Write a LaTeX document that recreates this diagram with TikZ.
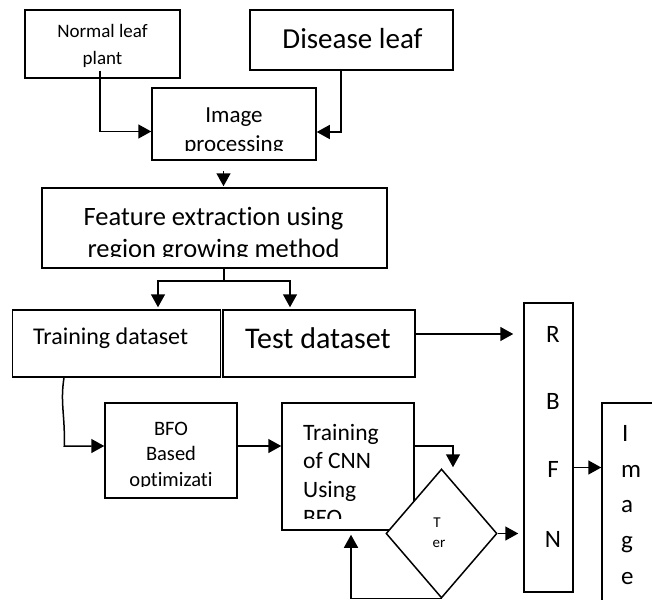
\documentclass[tikz,border=0pt]{standalone}
\usepackage{fontspec}
\setmainfont{Carlito}[Ligatures=NoCommon]
\usetikzlibrary{arrows.meta,calc,shapes.geometric}

\begin{document}
\begin{tikzpicture}[x=1pt,y=-1pt,
  box/.style={draw,line width=1.5pt,rectangle,inner sep=0pt,fill=white},
  arr/.style={line width=1.5pt,-{Triangle[length=13pt,width=14pt]}},
  ln/.style={line width=1.5pt},
  txt/.style={inner sep=0pt,anchor=base},
  lt/.style={inner sep=0pt,anchor=base west},
  fs/.style={font=\fontsize{#1}{#1}\selectfont}]
\useasboundingbox (0,0) rectangle (652,599);
\clip (0,0) rectangle (652,599);

% boxes
\node[box,minimum width=155pt,minimum height=68pt] (normal) at (102.5,44) {};
\node[box,minimum width=203pt,minimum height=60pt] (disease) at (351.5,40) {};
\node[box,minimum width=164pt,minimum height=72pt] (imgproc) at (234,124) {};
\node[box,minimum width=345pt,minimum height=80pt] (feature) at (214.5,228) {};
\node[box,minimum width=208pt,minimum height=67pt] (train) at (116.5,343.5) {};
\node[box,minimum width=192pt,minimum height=67pt] (test) at (319,343.5) {};
\node[box,minimum width=49pt,minimum height=289pt] (rbfn) at (548.5,447.5) {};
\node[box,minimum width=60pt,minimum height=210pt] (image) at (632,508) {};
\node[box,minimum width=132pt,minimum height=95pt] (bfo) at (171,450.5) {};
\node[box,minimum width=132pt,minimum height=127pt] (cnn) at (348,466.5) {};
\node[box,diamond,minimum width=111pt,minimum height=129pt] (dia) at (441.5,533.5) {};

% texts
\node[txt,fs=19] (tn1) at (102.5,38) {Normal leaf};
\node[txt,fs=19] (tn2) at (102.5,65) {plant};
\node[txt,fs=29] (td) at (352.5,48.5) {Disease leaf};
\begin{scope}
  \clip (152,88) rectangle (316,150);
  \node[txt,fs=23] (ti1) at (234,122) {Image};
  \node[txt,fs=23] (ti2) at (234,151) {processing};
\end{scope}
\begin{scope}
  \clip (42,188) rectangle (387,256.5);
  \node[txt,fs=26.5] (tf1) at (213.5,225) {Feature extraction using};
  \node[txt,fs=26.5] (tf2) at (213.5,257) {region growing method};
\end{scope}
\node[lt,fs=24] (ttr) at (33,344) {Training dataset};
\node[lt,fs=30] (tts) at (245,348) {Test dataset};
\node[txt,fs=25] (r1) at (553,342) {R};
\node[txt,fs=25] (r2) at (553,409) {B};
\node[txt,fs=25] (r3) at (553,477) {F};
\node[txt,fs=25] (r4) at (553,547) {N};
\node[lt,fs=25] (i1) at (622,441) {I};
\node[lt,fs=25] (i2) at (621,477) {m};
\node[lt,fs=25] (i3) at (621,512) {a};
\node[lt,fs=25] (i4) at (621,548) {g};
\node[lt,fs=25] (i5) at (621,584) {e};
\begin{scope}
  \clip (105,403) rectangle (237,486.5);
  \node[txt,fs=20.5] (b1) at (171,435) {BFO};
  \node[txt,fs=20.5] (b2) at (171,460) {Based};
  \node[txt,fs=20.5] (b3) at (171,486) {optimizati};
\end{scope}
\begin{scope}
  \clip (282,403) rectangle (414,518);
  \node[lt,fs=23.5] (c1) at (303,440) {Training};
  \node[lt,fs=23.5] (c2) at (303,468.5) {of CNN};
  \node[lt,fs=23.5] (c3) at (303,497) {Using};
  \node[lt,fs=23.5] (c4) at (303,525.5) {BFO};
\end{scope}
\node[txt,fs=15] (dt1) at (437,527) {T};
\node[txt,fs=15] (dt2) at (439,547) {er};

% connectors
\coordinate (n1) at ($(normal.south)+(-2.5,-8)$);
\draw[arr] (n1) |- ($(imgproc.west)+(0,7.5)$);
\coordinate (d1) at ($(disease.south)+(-10.5,0)$);
\draw[arr] (d1) |- ($(imgproc.east)+(0,8)$);
\coordinate (f0) at ($(feature.north)+(9,-16)$);
\draw[arr] (f0) -- ($(feature.north)+(9,-1)$);
\coordinate (sp) at ($(feature.south)+(9.5,12)$);
\draw[ln] ($(feature.south)+(9.5,0)$) -- (sp);
\draw[arr] (sp) -| ($(train.north)+(41.5,-2)$);
\draw[arr] (sp) -| ($(test.north)+(-29,-2)$);
\coordinate (t1) at ($(test.east)+(0,-9.5)$);
\draw[arr] (t1) -- ($(rbfn.west |- t1)+(-10,0)$);
\coordinate (tb) at ($(train.south)+(-52.5,0)$);
\coordinate (bc) at ($(bfo.west)+(-40,-4.5)$);
\draw[arr] (tb) .. controls ($(tb)+(-4,25)$) and ($(bc)+(1,-30)$) .. (bc) -- ($(bfo.west)+(0,-4.5)$);
\coordinate (b1c) at ($(bfo.east)+(0,-4.5)$);
\draw[arr] (b1c) -- (cnn.west |- b1c);
\coordinate (c1c) at ($(cnn.east)+(0,-20.5)$);
\draw[arr] (c1c) -| ($(dia.north)+(11.5,-1)$);
\draw[arr] (dia.east) -- ($(rbfn.west)+(-5,86)$);
\coordinate (r1c) at ($(rbfn.east)+(0,20)$);
\draw[arr] (r1c) -- (image.west |- r1c);
\draw[arr,shorten >=4pt] ($(dia.south)+(0,-0.5)$) -| ($(cnn.south)+(3,0)$);
\end{tikzpicture}
\end{document}
